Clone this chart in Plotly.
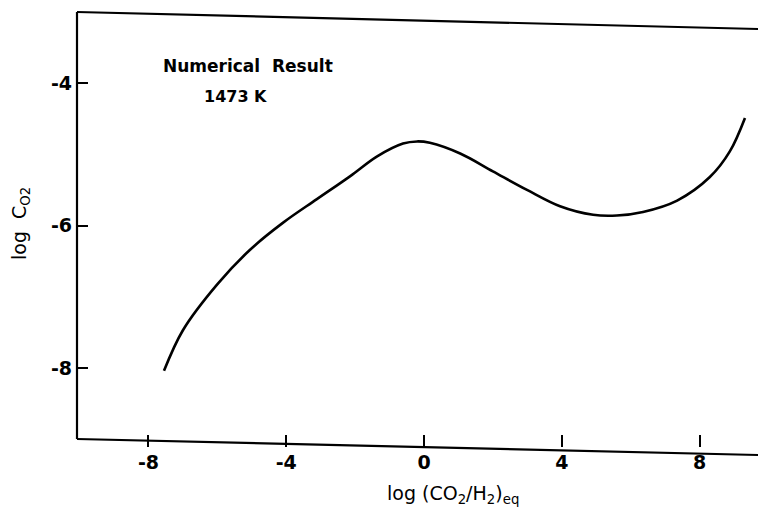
import plotly.graph_objects as go

# Data
log_ratio = [-7.55, -7.00, -6.01, -5.05, -4.09, -3.11, -2.15, -1.36, -0.61, -0.20,
             0.17, 1.05, 2.00, 2.99, 3.95, 4.91, 5.60, 6.36, 7.35, 8.30, 8.88, 9.32]
log_c = [-8.04, -7.47, -6.83, -6.34, -5.96, -5.63, -5.31, -5.03, -4.85, -4.82,
         -4.84, -4.99, -5.24, -5.50, -5.73, -5.85, -5.86, -5.81, -5.65, -5.32, -4.96, -4.49]

x_ticks = [-8, -4, 0, 4, 8]
y_ticks = [-4, -6, -8]

FONT = "DejaVu Sans"

fig = go.Figure()
fig.add_trace(go.Scatter(x=log_ratio, y=log_c, mode="lines",
                         line=dict(color="black", width=2.6, shape="spline", smoothing=1.0),
                         showlegend=False, hoverinfo="skip"))

W, H = 758, 513
L, R, T, B = 77, 0, 11, 66
plot_h = H - T - B

def py(p):
    return (H - B - p) / plot_h

def px(p):
    return (p - L) / (W - L - R)

line = dict(color="black", width=2.2)
fig.add_shape(type="line", xref="paper", yref="paper", x0=0, x1=0, y0=py(439), y1=py(12), line=line)
fig.add_shape(type="line", xref="paper", yref="paper", x0=0, x1=1, y0=py(12), y1=py(29), line=line)
fig.add_shape(type="line", xref="paper", yref="paper", x0=0, x1=1, y0=py(439), y1=py(455), line=line)

fig.add_annotation(text="<b>Numerical  Result</b>", xref="paper", yref="paper", x=px(161), y=py(66),
                   xanchor="left", yanchor="middle", showarrow=False,
                   font=dict(family=FONT, size=17, color="black"))
fig.add_annotation(text="<b>1473 K</b>", xref="paper", yref="paper", x=px(202), y=py(96),
                   xanchor="left", yanchor="middle", showarrow=False,
                   font=dict(family=FONT, size=16, color="black"))
fig.add_annotation(text="log  C<sub>O2</sub>", xref="paper", yref="paper", x=px(20), y=py(224),
                   xanchor="center", yanchor="middle", showarrow=False, textangle=-90,
                   font=dict(family=FONT, size=19, color="black"))
fig.add_annotation(text="log (CO<sub>2</sub>/H<sub>2</sub>)<sub>eq</sub>", xref="paper", yref="paper",
                   x=px(453), y=py(494), xanchor="center", yanchor="middle", showarrow=False,
                   font=dict(family=FONT, size=19, color="black"))

xs = 34.44
ys = 71.25
fig.update_xaxes(range=[(L - 424) / xs, (W - R - 424) / xs], tickvals=x_ticks,
                 ticktext=["<b>" + str(v) + "</b>" for v in x_ticks],
                 ticks="inside", ticklen=12, tickwidth=2, tickcolor="black",
                 showline=False, showgrid=False, zeroline=False, ticklabelstandoff=2,
                 tickfont=dict(family=FONT, size=19, color="black"))
fig.update_yaxes(range=[-8 - (H - B - 368) / ys, -4 + (83 - T) / ys], tickvals=y_ticks,
                 ticktext=["<b>" + str(v) + "</b>" for v in y_ticks],
                 ticks="inside", ticklen=11, tickwidth=2, tickcolor="black",
                 showline=False, showgrid=False, zeroline=False, ticklabelstandoff=4,
                 tickfont=dict(family=FONT, size=19, color="black"))
fig.update_layout(width=W, height=H, margin=dict(l=L, r=R, t=T, b=B, pad=0),
                  plot_bgcolor="white", paper_bgcolor="white")
fig.write_html("out.html")
